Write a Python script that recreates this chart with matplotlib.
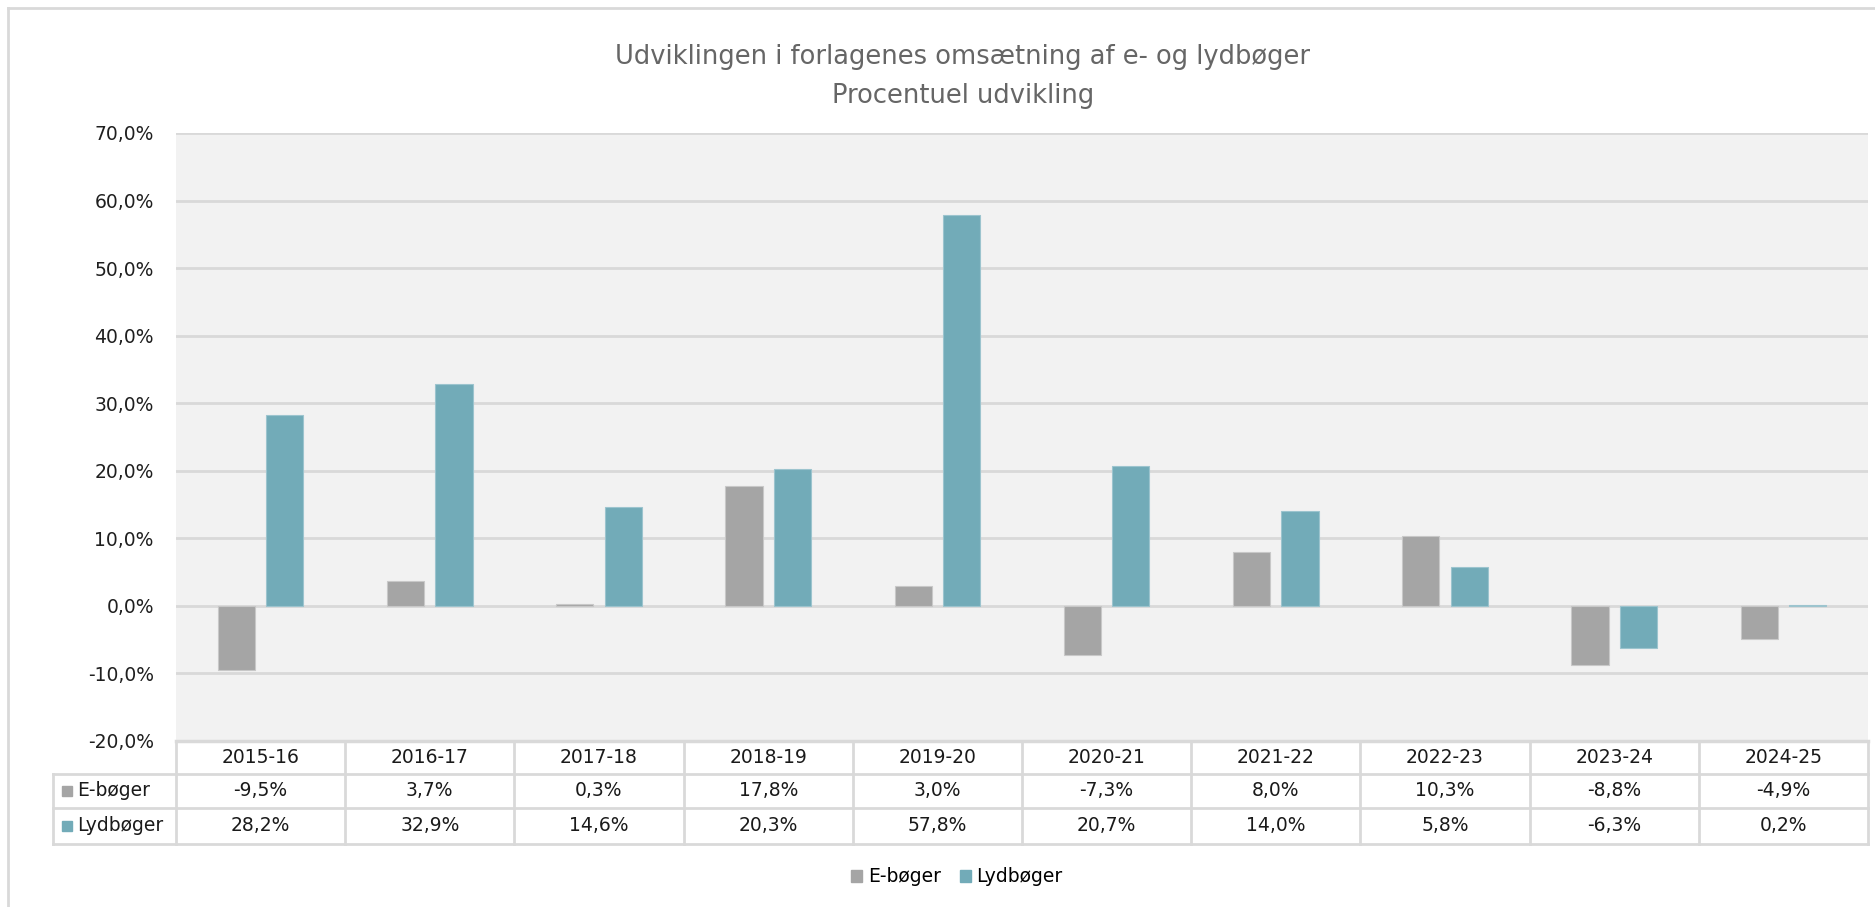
import numpy as np
import matplotlib.pyplot as plt
from matplotlib.patches import Patch

# data
years = ['2015-16', '2016-17', '2017-18', '2018-19', '2019-20',
         '2020-21', '2021-22', '2022-23', '2023-24', '2024-25']
eboger = [-9.5, 3.7, 0.3, 17.8, 3.0, -7.3, 8.0, 10.3, -8.8, -4.9]
lydboger = [28.2, 32.9, 14.6, 20.3, 57.8, 20.7, 14.0, 5.8, -6.3, 0.2]
series = ['E-bøger', 'Lydbøger']
colors = ['#A5A5A5', '#72ABB8']

plt.rcParams['font.family'] = ['DejaVu Sans']
FS = 13.5

W, H = 1875, 907
fig = plt.figure(figsize=(W / 100, H / 100), dpi=100)

# pixel layout
px_left, px_right, px_top, px_bot = 176, 1868, 133, 741
tab_left = 53
row_y = [741, 774, 808, 844]

def fx(x): return x / W
def fy(y): return 1 - y / H

ax = fig.add_axes([fx(px_left), fy(px_bot), fx(px_right - px_left), (px_bot - px_top) / H])
ax.set_facecolor('#F2F2F2')
n = len(years)
x = np.arange(n)
bw = 0.22
ax.bar(x - 0.143, eboger, bw, color=colors[0], edgecolor='#C8C8C8', linewidth=0.8, zorder=3)
ax.bar(x + 0.143, lydboger, bw, color=colors[1], edgecolor='#9CC4CE', linewidth=0.8, zorder=3)
ax.set_xlim(-0.5, n - 0.5)
ax.set_ylim(-20, 70)
ax.set_yticks(np.arange(-20, 71, 10))
ax.set_yticklabels([f'{v:.1f}%'.replace('.', ',') for v in np.arange(-20, 71, 10)],
                   fontsize=FS, color='#1f1f1f')
ax.tick_params(axis='y', length=0, pad=16)
ax.set_xticks([])
ax.grid(axis='y', color='#D9D9D9', linewidth=2, zorder=1)
for s in ax.spines.values():
    s.set_visible(False)

# data table below the plot
unit = (px_right - px_left) / n
tax = fig.add_axes([fx(tab_left), fy(row_y[-1]), fx(px_right - tab_left), (row_y[-1] - row_y[0]) / H])
tax.set_xlim(-0.5 - (px_left - tab_left) / unit, n - 0.5)
tax.set_ylim(row_y[-1], row_y[0])
tax.axis('off')
lc = '#D9D9D9'
lx0 = -0.5 - (px_left - tab_left) / unit
tax.plot([-0.5, n - 0.5], [row_y[0], row_y[0]], color=lc, lw=2.5, clip_on=False)
for y in row_y[1:]:
    tax.plot([lx0, n - 0.5], [y, y], color=lc, lw=2, clip_on=False)
for i in range(n + 1):
    tax.plot([i - 0.5, i - 0.5], [row_y[0], row_y[-1]], color=lc, lw=2, clip_on=False)
tax.plot([lx0, lx0], [row_y[1], row_y[-1]], color=lc, lw=2, clip_on=False)

for i, yr in enumerate(years):
    tax.text(i, (row_y[0] + row_y[1]) / 2, yr, ha='center', va='center', fontsize=FS, color='#1a1a1a')
for r, vals in enumerate([eboger, lydboger]):
    yc = (row_y[r + 1] + row_y[r + 2]) / 2
    for i, v in enumerate(vals):
        tax.text(i, yc, f'{v:.1f}%'.replace('.', ','), ha='center', va='center',
                 fontsize=FS, color='#1a1a1a')
    tax.add_patch(plt.Rectangle((lx0 + 9 / unit, yc - 5), 10 / unit, 10,
                                color=colors[r], clip_on=False))
    tax.text(lx0 + 24 / unit, yc, series[r], ha='left', va='center', fontsize=FS,
             color='#1a1a1a')

# title
fig.text(fx(963), fy(57), 'Udviklingen i forlagenes omsætning af e- og lydbøger',
         ha='center', va='center', fontsize=18.5, color='#666666')
fig.text(fx(963), fy(96), 'Procentuel udvikling', ha='center', va='center',
         fontsize=18.5, color='#666666')

# legend
handles = [Patch(color=c, label=s) for c, s in zip(colors, series)]
fig.legend(handles=handles, loc='center', bbox_to_anchor=(fx(957), fy(877)), ncol=2,
           frameon=False, fontsize=FS, handlelength=0.6, handleheight=0.6,
           handletextpad=0.3, columnspacing=1.0)

# chart border
fig.add_artist(plt.Line2D([fx(8), fx(8)], [fy(8), 0], color='#D9D9D9', lw=2))
fig.add_artist(plt.Line2D([fx(8), 1], [fy(8), fy(8)], color='#D9D9D9', lw=2))

fig.savefig('out.png', dpi=100)
